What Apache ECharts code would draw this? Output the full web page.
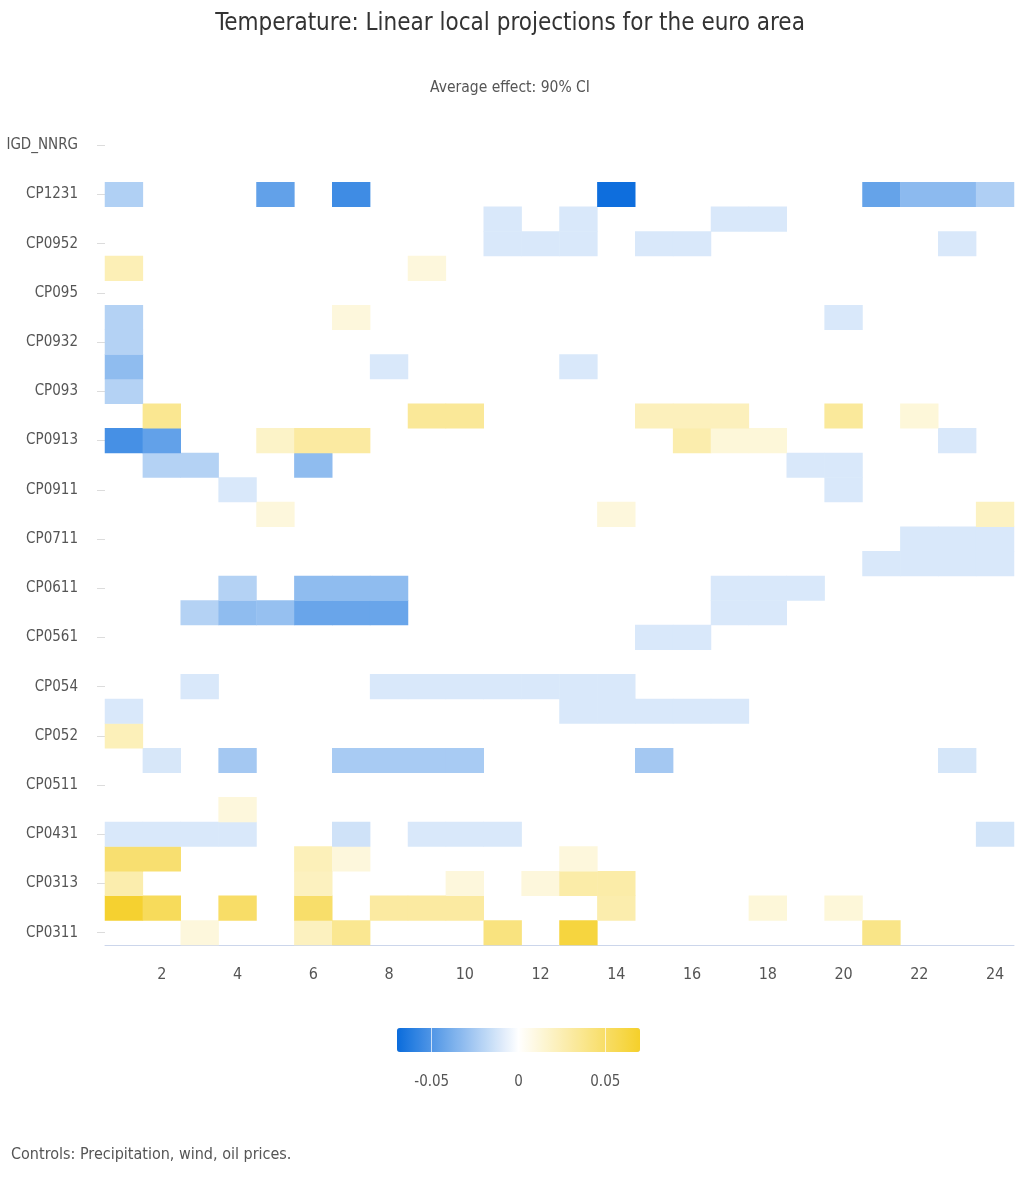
<!DOCTYPE html>
<html>
<head>
<meta charset="utf-8">
<script src="https://cdn.jsdelivr.net/npm/echarts@6/dist/echarts.min.js"></script>
<style>
  html, body { margin: 0; padding: 0; background: #fff; }
  #chart { width: 1020px; height: 1177px; }
</style>
</head>
<body>
<div id="chart"></div>
<script>
// horizons 1..24
const horizons = ["1", "2", "3", "4", "5", "6", "7", "8", "9", "10", "11", "12",
  "13", "14", "15", "16", "17", "18", "19", "20", "21", "22", "23", "24"];

// categories, bottom to top (only every other one is labelled)
const categories = ["CP0311", "CP0312", "CP0313", "CP0321", "CP0431", "CP0451",
  "CP0511", "CP0512", "CP052", "CP053", "CP054", "CP055", "CP0561", "CP0562",
  "CP0611", "CP0612", "CP0711", "CP0712", "CP0911", "CP0912", "CP0913", "CP0914",
  "CP093", "CP0931", "CP0932", "CP0933", "CP095", "CP0951", "CP0952", "CP0953",
  "CP1231", "CP1232", "IGD_NNRG"];

// significant cells per category: [horizon, effect]
const cp0311 = [[3, 0.0115], [6, 0.021], [7, 0.036], [11, 0.042], [13, 0.063], [21, 0.039]];
const cp0312 = [[1, 0.068], [2, 0.054], [4, 0.05], [6, 0.049], [8, 0.031], [9, 0.031],
  [10, 0.031], [14, 0.027], [18, 0.0125], [20, 0.0125]];
const cp0313 = [[1, 0.027], [6, 0.021], [10, 0.0115], [12, 0.0115], [13, 0.0286], [14, 0.0286]];
const cp0321 = [[1, 0.047], [2, 0.047], [6, 0.023], [7, 0.0115], [13, 0.0115]];
const cp0431 = [[1, -0.011], [2, -0.011], [3, -0.011], [4, -0.011], [7, -0.0137],
  [9, -0.011], [10, -0.011], [11, -0.011], [24, -0.0125]];
const cp0451 = [[4, 0.0115]];
const cp0511 = [];
const cp0512 = [[2, -0.0115], [4, -0.026], [7, -0.025], [8, -0.025], [9, -0.025],
  [10, -0.025], [15, -0.026], [23, -0.012]];
const cp052 = [[1, 0.023]];
const cp053 = [[1, -0.011], [13, -0.011], [14, -0.011], [15, -0.011], [16, -0.011], [17, -0.011]];
const cp054 = [[3, -0.011], [8, -0.011], [9, -0.011], [10, -0.011], [11, -0.011],
  [12, -0.011], [13, -0.011], [14, -0.011]];
const cp055 = [];
const cp0561 = [[15, -0.011], [16, -0.011]];
const cp0562 = [[3, -0.0214], [4, -0.032], [5, -0.03], [6, -0.043], [7, -0.043],
  [8, -0.043], [17, -0.011], [18, -0.011]];
const cp0611 = [[4, -0.0214], [6, -0.032], [7, -0.032], [8, -0.032], [17, -0.011],
  [18, -0.011], [19, -0.011]];
const cp0612 = [[21, -0.011], [22, -0.011], [23, -0.011], [24, -0.011]];
const cp0711 = [[22, -0.011], [23, -0.011], [24, -0.011]];
const cp0712 = [[5, 0.0115], [14, 0.0115], [24, 0.02]];
const cp0911 = [[4, -0.011], [20, -0.011]];
const cp0912 = [[2, -0.0214], [3, -0.0214], [6, -0.032], [19, -0.011], [20, -0.011]];
const cp0913 = [[1, -0.053], [2, -0.045], [5, 0.018], [6, 0.031], [7, 0.031],
  [16, 0.027], [17, 0.0125], [18, 0.0125], [23, -0.011]];
const cp0914 = [[2, 0.036], [9, 0.034], [10, 0.034], [15, 0.022], [16, 0.022],
  [17, 0.022], [20, 0.033], [22, 0.0125]];
const cp093 = [[1, -0.0214]];
const cp0931 = [[1, -0.032], [8, -0.011], [13, -0.011]];
const cp0932 = [[1, -0.0214]];
const cp0933 = [[1, -0.0214], [7, 0.0115], [20, -0.011]];
const cp095 = [];
const cp0951 = [[1, 0.024], [9, 0.0115]];
const cp0952 = [[11, -0.011], [12, -0.011], [13, -0.011], [15, -0.011], [16, -0.011], [23, -0.011]];
const cp0953 = [[11, -0.011], [13, -0.011], [17, -0.011], [18, -0.011]];
const cp1231 = [[1, -0.0225], [5, -0.045], [7, -0.055], [14, -0.069], [21, -0.044],
  [22, -0.033], [23, -0.033], [24, -0.023]];
const cp1232 = [];
const igdNnrg = [];

const legendTicks = [-0.05, 0, 0.05];

const rows = [cp0311, cp0312, cp0313, cp0321, cp0431, cp0451, cp0511, cp0512, cp052,
  cp053, cp054, cp055, cp0561, cp0562, cp0611, cp0612, cp0711, cp0712, cp0911, cp0912,
  cp0913, cp0914, cp093, cp0931, cp0932, cp0933, cp095, cp0951, cp0952, cp0953,
  cp1231, cp1232, igdNnrg];

const cells = [];
rows.forEach((row, yi) => {
  row.forEach(([h, v]) => cells.push([h - 1, yi, v]));
});

const font = "'Liberation Sans Narrow', 'DejaVu Sans Condensed', sans-serif";
const evenOnly = (i) => i % 2 === 1;

const chart = echarts.init(document.getElementById("chart"));
chart.setOption({
  animation: false,
  title: [
    {
      text: "Temperature: Linear local projections for the euro area",
      left: "center",
      top: 7,
      textStyle: { fontFamily: font, fontSize: 24, fontWeight: "normal", color: "#333" }
    },
    {
      text: "Average effect: 90% CI",
      left: "center",
      top: 75,
      textStyle: { fontFamily: font, fontSize: 15.5, fontWeight: "normal", color: "#555" }
    },
    {
      text: "Controls: Precipitation, wind, oil prices.",
      left: 6,
      top: 1142,
      textStyle: { fontFamily: font, fontSize: 16, fontWeight: "normal", color: "#555" }
    }
  ],
  grid: [
    { left: 105, right: 6, top: 133, bottom: 232, outerBoundsMode: "none" },
    { left: 397, top: 1028, width: 243, height: 24, outerBoundsMode: "none" }
  ],
  xAxis: [
    {
      type: "category",
      data: horizons,
      axisLine: { lineStyle: { color: "#ccd6eb" } },
      axisTick: { alignWithLabel: true, interval: evenOnly, length: 11, lineStyle: { color: "#ccd6eb" } },
      axisLabel: { interval: evenOnly, margin: 22, fontFamily: font, fontSize: 16, color: "#555" },
      splitLine: { show: false }
    },
    {
      type: "value",
      gridIndex: 1,
      min: -0.07,
      max: 0.07,
      z: 10,
      axisLine: { show: false },
      splitLine: { show: false },
      axisTick: {
        show: true, inside: true, length: 24, customValues: legendTicks,
        lineStyle: { color: "rgba(255,255,255,0.7)" }
      },
      axisLabel: { customValues: legendTicks, margin: 23, fontFamily: font, fontSize: 15, color: "#555" }
    }
  ],
  yAxis: [
    {
      type: "category",
      data: categories,
      axisLine: { show: false },
      axisTick: { show: true, alignWithLabel: true, interval: 1, length: 8, lineStyle: { color: "#dcdcdc" } },
      axisLabel: { interval: 1, margin: 27, fontFamily: font, fontSize: 15, color: "#555" },
      splitLine: { show: false }
    },
    { type: "value", gridIndex: 1, show: false, min: 0, max: 1 }
  ],
  visualMap: {
    type: "continuous",
    seriesIndex: 0,
    min: -0.07,
    max: 0.07,
    orient: "horizontal",
    left: 397,
    top: 1028,
    padding: 0,
    itemWidth: 24,
    itemHeight: 243,
    calculable: false,
    hoverLink: false,
    text: null,
    inRange: { color: ["#0a6cdc", "#ffffff", "#f5d02a"] }
  },
  series: [
    {
      type: "heatmap",
      data: cells,
      itemStyle: { borderWidth: 0 },
      emphasis: { disabled: true }
    }
  ]
});
</script>
</body>
</html>
